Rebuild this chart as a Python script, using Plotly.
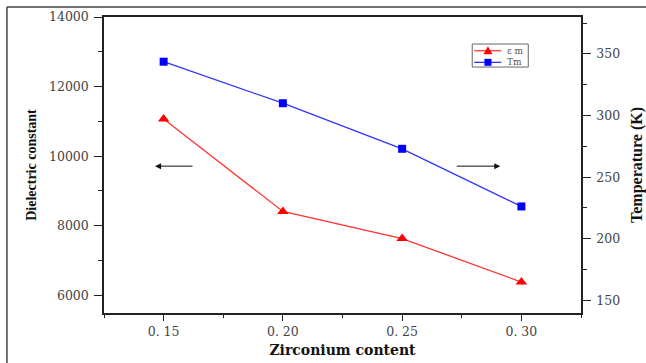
import plotly.graph_objects as go

zr = [0.15, 0.20, 0.25, 0.30]
eps_m = [11070, 8410, 7630, 6380]
tm = [343.7, 310, 273, 226.2]
x_ticks = [0.15, 0.20, 0.25, 0.30]
x_ticklabels = ["0. 15", "0. 20", "0. 25", "0. 30"]
series_names = ["ε m", "Tm"]
series_colors = ["#ff0000", "#0000ff"]
line_colors = ["#ff3333", "#3333ff"]

W, H = 646, 363
ml, mr, mt, mb = 104, 65.3, 17, 50.3
pw = W - ml - mr
ph = H - mt - mb


def px(x):
    return (x - ml) / pw


def py(y):
    return 1 - (y - mt) / ph


tickfont = dict(family="DejaVu Serif", size=12.5, color="#444")
axcol = "#222"

fig = go.Figure()
fig.add_trace(go.Scatter(
    x=zr, y=eps_m, name=series_names[0], mode="lines+markers",
    line=dict(color=line_colors[0], width=1.3),
    marker=dict(symbol="triangle-up", size=10, color=series_colors[0]),
))
fig.add_trace(go.Scatter(
    x=zr, y=tm, name=series_names[1], mode="lines+markers", yaxis="y2",
    line=dict(color=line_colors[1], width=1.3),
    marker=dict(symbol="square", size=8, color=series_colors[1]),
))

fig.update_layout(
    width=W, height=H,
    margin=dict(l=ml, r=mr, t=mt, b=mb, pad=0, autoexpand=False),
    paper_bgcolor="white", plot_bgcolor="white",
    showlegend=False,
    xaxis=dict(
        range=[0.125, 0.325], tickvals=x_ticks, ticktext=x_ticklabels, automargin=False,
        showgrid=False, zeroline=False, showline=True, linecolor=axcol, linewidth=1.5,
        mirror=True, ticks="outside", ticklen=6, tickwidth=1.2, tickcolor=axcol,
        minor=dict(dtick=0.025, tick0=0.125, ticks="outside", ticklen=3, tickcolor=axcol, tickwidth=1.2),
        tickfont=tickfont,
        title=dict(text="Zirconium content", standoff=7,
                   font=dict(family="DejaVu Serif", size=14, color="#111", weight="bold")),
    ),
    yaxis=dict(
        range=[5490, 14000], dtick=2000, tick0=0, tickformat="d", automargin=False,
        showgrid=False, zeroline=False, showline=True, linecolor=axcol, linewidth=1.5,
        ticks="outside", ticklen=8, tickwidth=1.2, tickcolor=axcol, ticklabelstandoff=3,
        minor=dict(dtick=1000, ticks="outside", ticklen=4, tickcolor=axcol, tickwidth=1.2),
        tickfont=tickfont,
        title=dict(text="Dielectric constant", standoff=9,
                   font=dict(family="Liberation Serif", size=14, color="#111", weight="bold")),
    ),
    yaxis2=dict(
        range=[139.7, 380], dtick=50, tick0=0, overlaying="y", side="right", automargin=False,
        showgrid=False, zeroline=False, showline=True, linecolor=axcol, linewidth=1.5,
        ticks="outside", ticklen=8, tickwidth=1.2, tickcolor=axcol, ticklabelstandoff=3,
        minor=dict(dtick=25, ticks="outside", ticklen=4, tickcolor=axcol, tickwidth=1.2),
        tickfont=tickfont,
        title=dict(text="Temperature (K)", standoff=14,
                   font=dict(family="Liberation Serif", size=16, color="#111", weight="bold")),
    ),
)

# outer frame (left and top edges visible)
fx0 = px(7)
fy1 = py(7)
fig.add_shape(type="line", xref="paper", yref="paper", x0=fx0, x1=fx0, y0=-1, y1=fy1,
              line=dict(color="#444", width=1.5))
fig.add_shape(type="line", xref="paper", yref="paper", x0=fx0, x1=2, y0=fy1, y1=fy1,
              line=dict(color="#444", width=1.5))

# direction arrows
ay_p = py(166)
fig.add_annotation(xref="paper", yref="paper", x=px(155), y=ay_p, ax=39, ay=0,
                   axref="pixel", ayref="pixel", text="", showarrow=True,
                   arrowhead=2, arrowsize=1.2, arrowwidth=1, arrowcolor="#111")
fig.add_annotation(xref="paper", yref="paper", x=px(500), y=ay_p, ax=-45, ay=0,
                   axref="pixel", ayref="pixel", text="", showarrow=True,
                   arrowhead=2, arrowsize=1.2, arrowwidth=1, arrowcolor="#111")

# compact legend box
fig.add_shape(type="rect", xref="paper", yref="paper", x0=px(472), x1=px(528), y0=py(67), y1=py(44),
              line=dict(color="#666", width=1), fillcolor="white", layer="above")
rows_y = [50.7, 62.3]
for i, ry in enumerate(rows_y):
    fig.add_shape(type="line", xref="paper", yref="paper", x0=px(474), x1=px(501), y0=py(ry), y1=py(ry),
                  line=dict(color=line_colors[i], width=1.3), layer="above")
    cx, cy = 487.7, ry
    if i == 0:
        path = f"M {px(cx-4.5)} {py(cy+3.5)} L {px(cx+4.5)} {py(cy+3.5)} L {px(cx)} {py(cy-4.5)} Z"
    else:
        path = (f"M {px(cx-3.5)} {py(cy+3.5)} L {px(cx+3.5)} {py(cy+3.5)} "
                f"L {px(cx+3.5)} {py(cy-3.5)} L {px(cx-3.5)} {py(cy-3.5)} Z")
    fig.add_shape(type="path", xref="paper", yref="paper", path=path,
                  fillcolor=series_colors[i], line=dict(width=0), layer="above")
    fig.add_annotation(xref="paper", yref="paper", x=px(505), y=py(ry), xanchor="left", yanchor="middle",
                       text=series_names[i], showarrow=False,
                       font=dict(family="DejaVu Serif", size=9, color="#555"))

fig.write_html("out.html")
